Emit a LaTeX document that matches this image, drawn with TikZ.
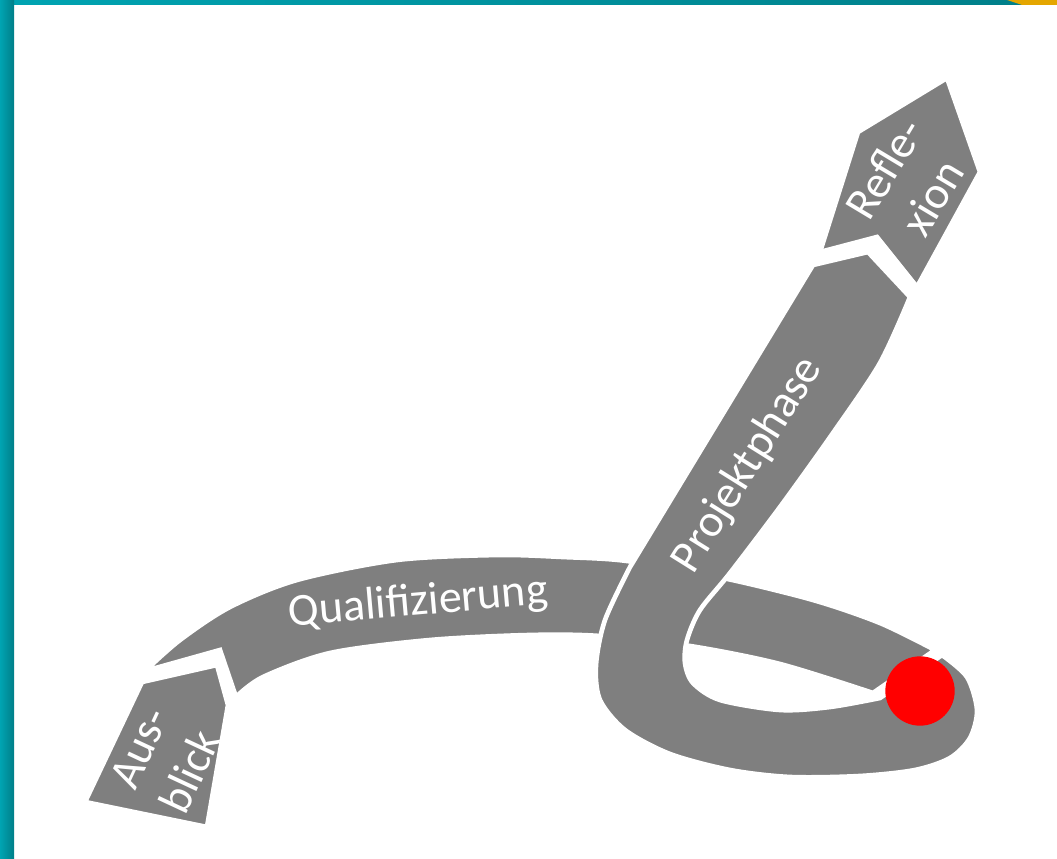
\documentclass[tikz,border=0pt]{standalone}
\usepackage{fontspec}
\setmainfont{Carlito}
\usepackage{tikz}
\usetikzlibrary{positioning}

\definecolor{ribbon}{RGB}{127,127,127}
\definecolor{framedark}{RGB}{0,126,136}
\definecolor{framelight}{RGB}{0,164,178}
\definecolor{frameorange}{RGB}{228,166,0}
\definecolor{dotred}{RGB}{255,0,0}

\begin{document}
\begin{tikzpicture}[x=0.75pt,y=-0.75pt,
    band/.style={fill=ribbon,draw=white,line width=3.5pt,line join=miter},
    lbl/.style={text=white,font=\fontsize{34.5}{42}\selectfont,inner sep=0pt},
    dot/.style={circle,fill=dotred,minimum size=52pt,inner sep=0pt}]
    \useasboundingbox (0,0) rectangle (1057,859);
    % frame
    \fill[white] (0,0) rectangle (1057,859);
    \shade[left color=framelight,right color=framedark] (0,0) rectangle (1057,5);
    \shade[left color=framelight,right color=framedark] (0,0) rectangle (14,859);
    \fill[frameorange] (1007,0) -- (1057,0) -- (1057,5) -- (1022,5) -- cycle;
    % ribbon: Qualifizierung up to the dot
    \path[band] (145,671) -- (220,650) -- (236,697)
      -- plot[smooth] coordinates {(236,697) (263,677) (330,653) (430,640) (530,635)
         (600,636) (690,646) (780,664) (873,693)}
      -- (935,650)
      -- plot[smooth] coordinates {(935,650) (880,623) (813,600) (723,578) (627,561)
         (563,557) (497,555) (397,560) (297,580) (230,607) (180,640) (145,671)}
      -- cycle;
    % ribbon: loop and Projektphase
    \path[band] (942,655)
      -- plot[smooth] coordinates {(942,655) (967,677) (977,710) (970,738) (950,758)
         (915,770) (860,776) (790,777) (730,770) (670,754) (625,730) (600,700)
         (596,665) (605,620) (630,567)}
      -- (813,265) -- (868,252) -- (910,297)
      -- plot[smooth] coordinates {(910,297) (880,363) (833,433) (780,507) (730,573)
         (700,610) (687,640) (685,663) (693,683) (720,700) (780,710) (830,707) (880,698)}
      -- cycle;
    % arrow ends
    \path[band] (142,682) -- (217,665) -- (228,705) -- (207,827) -- (85,802) -- cycle;
    \path[band] (820,252) -- (858,132) -- (947,78) -- (980,172) -- (917,287) -- (877,237) -- cycle;
    \node[dot] (start) at (920,691) {};
    % labels
    \node[lbl,rotate=5] (quali) at (418,603) {Qualifizierung};
    \node[lbl,rotate=58] (projekt) at (748,465) {Projektphase};
    \node[lbl,rotate=65,align=center] (ausblick) at (165,760) {Aus-\\blick};
    \node[lbl,rotate=59,align=center] (reflexion) at (908,183) {Refle-\\xion};
\end{tikzpicture}
\end{document}
